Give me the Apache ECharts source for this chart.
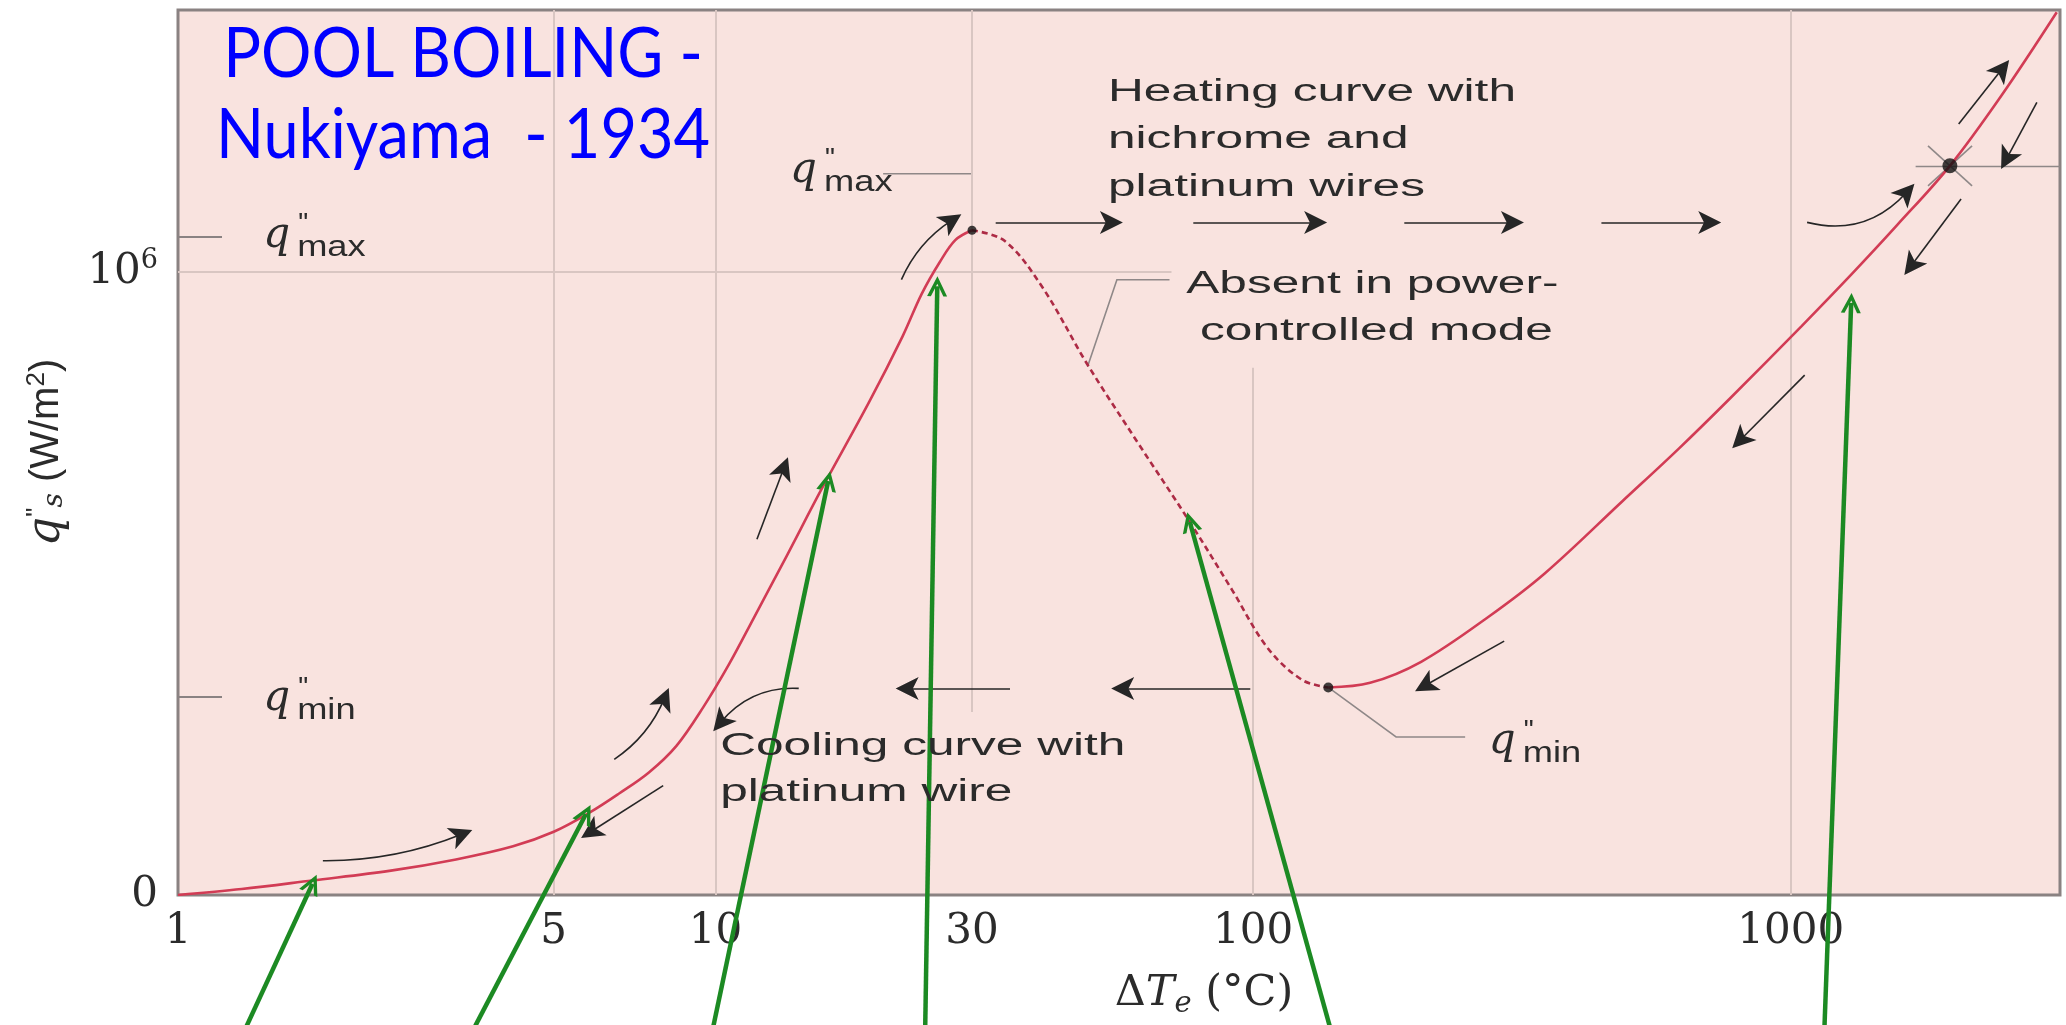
<!DOCTYPE html>
<html>
<head>
<meta charset="utf-8">
<script src="https://cdn.jsdelivr.net/npm/echarts@6/dist/echarts.min.js"></script>
<style>
html,body{margin:0;padding:0;background:#ffffff;}
#chart{width:2066px;height:1025px;}
</style>
</head>
<body>
<div id="chart"></div>
<script>
// ================= DATA (ΔT_e in °C, q''_s in W/m²) =================
const xTickValues = [1, 5, 10, 30, 100, 1000];
const yTickValues = [0, 1000000];
const yTickLabels = ['0', '10{sup|6}'];

// Nucleate boiling branch (solid, heating)
const nucleateDT = [1, 1.314, 1.777, 2.489, 3.29, 4.201, 5.0, 5.827, 6.616, 7.516, 8.45, 9.502, 10.59, 11.77, 13.59, 15.7, 19.3, 22.28, 24.17, 26.1, 27.92, 30];
const nucleateQ  = [0, 9500, 23300, 39100, 57100, 78200, 101500, 132100, 162800, 196600, 238900, 302300, 370000, 444000, 545500, 649100, 790700, 896400, 964100, 1014800, 1050800, 1066600];
// Transition branch (dashed, absent in power-controlled mode)
const transitionDT = [30, 34.53, 40.53, 49.12, 60.86, 76.26, 91.24, 106.5, 123.4, 138];
const transitionQ  = [1066600, 1049300, 975500, 852000, 727300, 598500, 490500, 396000, 345000, 333000];
// Film boiling branch (solid)
const filmDT = [138, 165.1, 205.4, 273.8, 348.7, 486.9, 620.1, 771.8, 1047, 1296, 1576, 1978, 2469, 3126];
const filmQ  = [333000, 340400, 374200, 446100, 515900, 632200, 716700, 797100, 912500, 995400, 1074400, 1170000, 1283300, 1416500];

// Characteristic points
const peakPoint = [30, 1066600];      // q''max
const minPoint = [138, 333000];       // q''min (Leidenfrost)
const burnoutPoint = [1978, 1170000];
const qMaxLevel = 1056200;
const qMinLevel = 317800;

// Reference grid lines
const fullGridX = [5, 10, 1000];
const grid30 = [[30, 1420000], [30, 293700]];
const grid100 = [[100, 845900], [100, 0]];
const grid1e6 = [[1, 1000000], [70.5, 1000000]];

// Black direction arrows: [from, to, curveness]
const heatingArrows = [
  [[33.2, 1079200], [54.5, 1079200], 0],
  [[77.4, 1079200], [130.7, 1079200], 0],
  [[191.1, 1079200], [303.7, 1079200], 0],
  [[444.6, 1079200], [707.1, 1079200], 0],
  [[1073, 1079200], [1644, 1127600], -0.3]
];
const curveArrows = [
  [[1.86, 55000], [3.37, 97300], -0.1],
  [[6.48, 217700], [8.03, 315000], -0.15],
  [[7.99, 175500], [5.86, 101500], 0],
  [[11.94, 570800], [13.4, 685000], 0],
  [[22.17, 987300], [27.5, 1082400], 0.15],
  [[2054, 1237000], [2473, 1325300], 0],
  [[2871, 1271800], [2521, 1181000], 0],
  [[2075, 1116700], [1676, 1009700], 0],
  [[1062, 834200], [806, 730000], 0],
  [[293.1, 407400], [208.9, 336100], 0]
];
const coolingArrows = [
  [[35.3, 331500], [22.72, 331500], 0],
  [[98.8, 331500], [57.2, 331500], 0],
  [[14.28, 331500], [10.22, 277000], -0.25]
];
// Leader lines
const leaders = [
  [[20.5, 1157300], [30, 1157300]],
  [[69.9, 987200], [55.8, 987200], [49.2, 847500]],
  [[138, 333000], [184.5, 253600], [248, 253600]],
  [[1708, 1169000], [3170, 1169000]],
  [[1801, 1202100], [2175, 1137900]],
  [[1801, 1137900], [2175, 1202100]]
];
// Green pointer arrows (from below the axis to the curve)
const greenArrows = [
  [[1.342, -210000], [1.779, 18000]],
  [[3.573, -210000], [5.74, 130000]],
  [[9.91, -210000], [16.2, 664300]],
  [[24.55, -210000], [25.85, 976700]],
  [[138.8, -210000], [76.26, 598500]],
  [[1156, -210000], [1296, 950000]]
];

// ================= CHART =================
const zip = (a, b) => a.map((v, i) => [v, b[i]]);
const chart = echarts.init(document.getElementById('chart'), null, {renderer: 'canvas'});

const arrowHead = 'path://M5,0 L10,18 L5,13.5 L0,18 Z';
const chevron = 'path://M0,20 L12,0 L24,20 L19.5,20 L12,7.5 L4.5,20 Z';
const toLines = arr => arr.map(a => ({coords: [a[0], a[1]], lineStyle: {curveness: a[2] || 0}}));

const serif = '"DejaVu Serif", serif';
const sans = '"Liberation Sans", Arial, sans-serif';
const ink = '#2b2b2b';
const gridColor = '#d9c6c2';
const curveStyle = {smooth: 0.35, symbol: 'none', z: 5};

const option = {
  animation: false,
  backgroundColor: '#ffffff',
  grid: {left: 178, right: 6, top: 10, bottom: 130, show: true,
         backgroundColor: '#f9e3df', borderColor: '#8a8282', borderWidth: 3},
  xAxis: {
    type: 'log', logBase: 10, min: 1, max: 3170,
    axisLine: {show: false}, axisTick: {show: false}, splitLine: {show: false},
    minorTick: {show: false}, minorSplitLine: {show: false},
    axisLabel: {customValues: xTickValues, formatter: v => String(Math.round(v)), margin: 16,
                fontFamily: serif, fontSize: 42, color: ink},
    name: '{d|Δ}{t|T}{e|e}{r| (°C)}', nameLocation: 'middle', nameGap: 73,
    nameTextStyle: {padding: [0, 0, 0, 170], rich: {
      d: {fontFamily: serif, fontSize: 43, color: ink},
      t: {fontFamily: serif, fontStyle: 'italic', fontSize: 43, color: ink},
      e: {fontFamily: serif, fontStyle: 'italic', fontSize: 29, color: ink, padding: [22, 0, 0, 0]},
      r: {fontFamily: serif, fontSize: 43, color: ink}
    }}
  },
  yAxis: {
    type: 'value', min: 0, max: 1420000,
    axisLine: {show: false}, splitLine: {show: false},
    axisTick: {show: true, inside: true, length: 44, customValues: [qMaxLevel, qMinLevel],
               lineStyle: {color: '#8a8282', width: 2}},
    axisLabel: {customValues: yTickValues,
                formatter: v => yTickLabels[yTickValues.indexOf(v)] || '',
                margin: 20, fontFamily: serif, fontSize: 42, color: ink,
                rich: {sup: {fontFamily: serif, fontSize: 27, color: ink, padding: [0, 0, 22, 0]}}},
    name: '{q|q}{pp|"}{s|s}{r| (W/m}{two|2}{r|)}', nameLocation: 'middle', nameGap: 108, nameRotate: 90,
    nameTextStyle: {rich: {
      q: {fontFamily: serif, fontStyle: 'italic', fontSize: 46, color: ink},
      pp: {fontFamily: sans, fontSize: 26, color: ink, padding: [0, 0, 20, 0]},
      s: {fontFamily: serif, fontStyle: 'italic', fontSize: 28, color: ink, padding: [16, 0, 0, 0]},
      r: {fontFamily: sans, fontSize: 40, color: ink},
      two: {fontFamily: sans, fontSize: 26, color: ink, padding: [0, 0, 20, 0]}
    }}
  },
  series: [
    { name: 'grid', type: 'line', data: [[1, 0]], showSymbol: false, lineStyle: {width: 0}, z: 1, silent: true,
      markLine: {silent: true, symbol: ['none', 'none'], label: {show: false},
        lineStyle: {color: gridColor, width: 2, type: 'solid'},
        data: fullGridX.map(v => ({xAxis: v})).concat([
          [{coord: grid30[0]}, {coord: grid30[1]}],
          [{coord: grid100[0]}, {coord: grid100[1]}],
          [{coord: grid1e6[0]}, {coord: grid1e6[1]}]
        ])}
    },
    Object.assign({ name: 'Nucleate boiling', type: 'line', data: zip(nucleateDT, nucleateQ),
      lineStyle: {color: '#d23c55', width: 2.6} }, curveStyle),
    Object.assign({ name: 'Transition boiling', type: 'line', data: zip(transitionDT, transitionQ),
      lineStyle: {color: '#ad2b45', width: 2.6, type: [6, 4]} }, curveStyle),
    Object.assign({ name: 'Film boiling', type: 'line', data: zip(filmDT, filmQ),
      lineStyle: {color: '#d23c55', width: 2.6} }, curveStyle),
    { name: 'leaders', type: 'lines', coordinateSystem: 'cartesian2d', polyline: true, silent: true, z: 3,
      lineStyle: {color: '#8f8888', width: 1.6, opacity: 1},
      data: leaders.map(c => ({coords: c})) },
    { name: 'arrows', type: 'lines', coordinateSystem: 'cartesian2d', silent: true, z: 6,
      symbol: ['none', arrowHead], symbolSize: [14, 23],
      lineStyle: {color: '#262626', width: 1.6, opacity: 1},
      data: toLines(heatingArrows.concat(curveArrows, coolingArrows)) },
    { name: 'points', type: 'scatter', z: 7, silent: true, itemStyle: {color: '#111111'},
      data: [{value: peakPoint, symbolSize: 9}, {value: minPoint, symbolSize: 10}, {value: burnoutPoint, symbolSize: 15}] },
    { name: 'pointers', type: 'lines', coordinateSystem: 'cartesian2d', silent: true, z: 12, clip: false,
      symbol: ['none', chevron], symbolSize: [24, 20],
      lineStyle: {color: '#1c8a23', width: 4.5, opacity: 1},
      data: greenArrows.map(a => ({coords: a})) }
  ]
};
chart.setOption(option);

// ---------- title and text annotations (annotations anchored in data coordinates) ----------
const toPx = p => chart.convertToPixel({gridIndex: 0}, p);
function textBlock(lines, at, size, scaleX, lh) {
  const p = toPx(at);
  return {type: 'text', x: p[0], y: p[1], scaleX: scaleX, z: 20, silent: true,
    style: {text: lines.join('\n'), fill: ink, font: size + 'px ' + sans, lineHeight: lh,
            textAlign: 'left', textVerticalAlign: 'middle'}};
}
function qLabel(at, sub) {
  const p = toPx(at);
  return {type: 'group', x: p[0], y: p[1], z: 20, silent: true, children: [
    {type: 'text', x: 0, y: -1, z: 20, style: {text: 'q', fill: ink, font: 'italic 42px ' + serif, textVerticalAlign: 'middle'}},
    {type: 'text', x: 35, y: -12, z: 20, style: {text: '"', fill: ink, font: '28px ' + sans, textVerticalAlign: 'middle'}},
    {type: 'text', x: 34, y: 11, z: 20, scaleX: 1.25, style: {text: sub, fill: ink, font: '29px ' + sans, textVerticalAlign: 'middle'}}
  ]};
}
chart.setOption({graphic: [
  {type: 'text', x: 463, y: 14, scaleX: 0.9, z: 30, silent: true,
   style: {text: 'POOL BOILING -\nNukiyama  - 1934', fill: '#0000ff', font: '70px Lato',
           lineHeight: 81, textAlign: 'center', textVerticalAlign: 'top'}},
  textBlock(['Heating curve with', 'nichrome and', 'platinum wires'], [53.7, 1211900], 31, 1.6, 47.5),
  textBlock(['Absent in power-', ' controlled mode'], [75.1, 942200], 31, 1.6, 47.5),
  textBlock(['Cooling curve with', 'platinum wire'], [10.2, 202200], 31, 1.6, 46),
  qLabel([13.76, 1160500], 'max'),
  qLabel([1.44, 1056200], 'max'),
  qLabel([1.44, 313000], 'min'),
  qLabel([274.5, 244000], 'min')
]});
</script>
</body>
</html>
